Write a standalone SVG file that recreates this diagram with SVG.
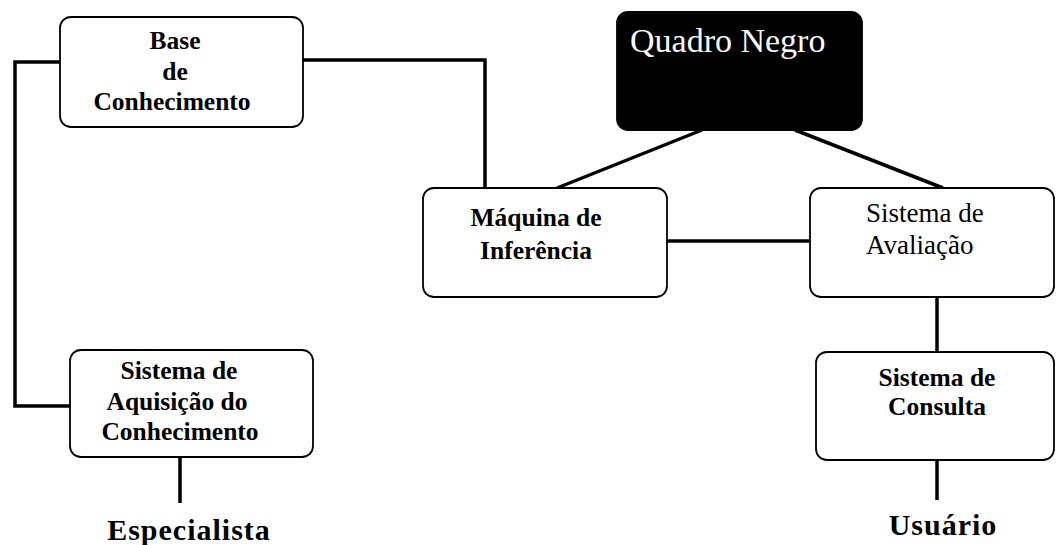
<svg xmlns="http://www.w3.org/2000/svg" width="1056" height="545" viewBox="0 0 1056 545">
<style>
.box{fill:#fff;stroke:#000;stroke-width:1.8}
.dark{fill:#000;stroke:#000;stroke-width:1.8}
.conn{fill:none;stroke:#000;stroke-width:3.5}
.t{font-family:"Liberation Serif","Times New Roman",serif;font-size:25.5px;font-weight:bold;fill:#000;text-anchor:middle}
.tn{font-family:"Liberation Serif","Times New Roman",serif;font-size:27px;fill:#000}
.big{font-family:"Liberation Serif","Times New Roman",serif;font-size:30px;font-weight:bold;fill:#000;text-anchor:middle;letter-spacing:1px}
.qn{font-family:"Liberation Serif","Times New Roman",serif;font-size:34px;fill:#fff}
</style>
<rect width="1056" height="545" fill="#fff"/>
<g id="connectors">
<polyline class="conn" points="60,62 15,62 15,406 70,406"/>
<polyline class="conn" points="303,60 485,60 485,188"/>
<line class="conn" x1="702" y1="130" x2="557" y2="188"/>
<line class="conn" x1="795" y1="130" x2="943" y2="188"/>
<line class="conn" x1="667" y1="241" x2="810" y2="241"/>
<line class="conn" x1="937" y1="297" x2="937" y2="352"/>
<line class="conn" x1="937" y1="460" x2="937" y2="500"/>
<line class="conn" x1="180" y1="457" x2="180" y2="503"/>
</g>
<g id="base">
<rect class="box" x="60" y="17" width="243" height="110" rx="11"/>
<text class="t" x="175" y="49">Base</text>
<text class="t" x="175" y="80">de</text>
<text class="t" x="172" y="110">Conhecimento</text>
</g>
<g id="quadro">
<rect class="dark" x="617" y="12" width="245" height="118" rx="11"/>
<text class="qn" x="630" y="52">Quadro Negro</text>
</g>
<g id="maquina">
<rect class="box" x="423" y="188" width="244" height="109" rx="11"/>
<text class="t" x="536" y="226">Máquina de</text>
<text class="t" x="536" y="259">Inferência</text>
</g>
<g id="avaliacao">
<rect class="box" x="810" y="188" width="244" height="109" rx="11"/>
<text class="tn" x="866" y="222">Sistema de</text>
<text class="tn" x="866" y="254">Avaliação</text>
</g>
<g id="aquisicao">
<rect class="box" x="70" y="350" width="243" height="107" rx="11"/>
<text class="t" x="179" y="379">Sistema de</text>
<text class="t" x="177" y="410">Aquisição do</text>
<text class="t" x="180" y="440">Conhecimento</text>
</g>
<g id="consulta">
<rect class="box" x="816" y="352" width="238" height="108" rx="11"/>
<text class="t" x="937" y="386">Sistema de</text>
<text class="t" x="937" y="415">Consulta</text>
</g>
<g id="especialista">
<text class="big" x="189" y="540">Especialista</text>
</g>
<g id="usuario">
<text class="big" x="943" y="535">Usuário</text>
</g>
</svg>
